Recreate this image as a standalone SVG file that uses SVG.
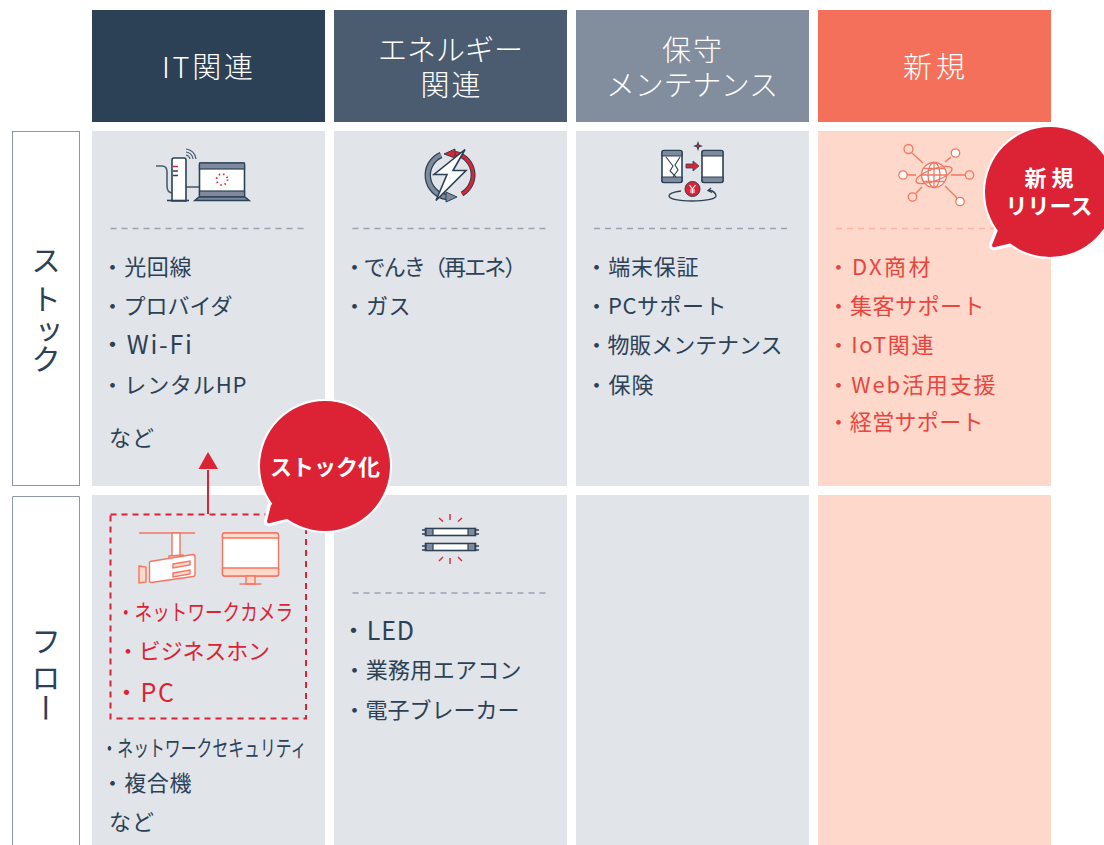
<svg xmlns="http://www.w3.org/2000/svg" width="1104" height="845" viewBox="0 0 1104 845">
<style>
text{font-family:"Noto Sans CJK JP","Noto Sans",sans-serif}
.h{font-size:29px;fill:#fff;text-anchor:middle;font-weight:300}
.l{font-size:22px;fill:#2c4156;font-weight:400}
.r{font-size:22px;fill:#dc2335;font-weight:400}
.o{font-size:22px;fill:#e8453f;font-weight:400}
.s{font-size:30px;fill:#2c4156;font-weight:400;writing-mode:vertical-rl}
.b{font-size:22px;fill:#fff;text-anchor:middle;font-weight:700}
.lat{font-size:25px}
.cell{fill:#e1e4e9}
.new{fill:#fed9cb}
.d{stroke:#9aa3b2;stroke-width:1.5;stroke-dasharray:6 5;fill:none}
.n{stroke:#2c4156;stroke-width:1.6;fill:#fff}
.g{stroke:#2c4156;stroke-width:1.6;fill:#7e8a9b}
.c{stroke:#f47560;stroke-width:1.4;fill:#fff}
.c2{stroke:#f47560;stroke-width:1.4;fill:#fed9cb}
</style>
<rect width="1104" height="845" fill="#fff"/>
<g id="header-it"><rect x="92" y="10" width="233" height="112" fill="#2c4156"/><text class="h" x="207.500" y="78" textLength="91">IT関連</text></g>
<g id="header-energy"><rect x="334" y="10" width="233" height="112" fill="#4c5c70"/><text class="h" x="450.500" y="61" textLength="145">エネルギー</text><text class="h" x="450.500" y="96" textLength="60">関連</text></g>
<g id="header-maint"><rect x="576" y="10" width="233" height="112" fill="#828d9e"/><text class="h" x="692" y="61" textLength="60">保守</text><text class="h" x="692" y="96" textLength="172">メンテナンス</text></g>
<g id="header-new"><rect x="818" y="10" width="233" height="112" fill="#f5705a"/><text class="h" x="934" y="78" textLength="62">新 規</text></g>
<g id="side-stock"><rect x="12.500" y="131.500" width="67" height="354" fill="#fff" stroke="#8d97a6"/><text class="s" x="46" y="245 284 317 344">ストック</text></g>
<g id="side-flow"><path d="M79.500 845V496.500H12.500V845" fill="#fff" stroke="#8d97a6"/><text class="s" x="46" y="626 663 693">フロー</text></g>
<g id="cell-it-stock"><rect class="cell" x="92" y="131" width="233" height="355"/>
<path class="d" d="M110.500 228.500H308"/>
<g id="icon-net" fill="none">
<path d="M156 166h6q5 0 5 6v14q0 7 6 7h7" fill="none" stroke="#4c5c70" stroke-width="1.600"/><path d="M185 187h24" stroke="#4c5c70" stroke-width="1.600"/>
<path class="n" d="M172 201v-41q0-2 2-2h10q2 0 2 2v41z"/><path d="M167 200.500h22" stroke="#2c4156" stroke-width="1.600"/>
<path d="M173 166.500h5" stroke="#dc2335" stroke-width="1.500"/><path d="M173 171h5M173 175.500h5" stroke="#2c4156" stroke-width="1.500"/>
<path d="M186 149a11 11 0 0 1 10 10M186 152a8 8 0 0 1 7 7M186 155a5 5 0 0 1 4 4" stroke="#4c5c70" stroke-width="1.200"/>
<rect class="n" x="199.500" y="163" width="45" height="34" rx="1.500"/><rect x="199.500" y="163" width="45" height="6" fill="#7e8a9b" stroke="#2c4156" stroke-width="1.200"/><rect x="199.500" y="191" width="45" height="6" fill="#7e8a9b" stroke="#2c4156" stroke-width="1.200"/>
<path class="g" d="M199 197h46l4 3.500h-54z"/>
<circle cx="222" cy="179.500" r="5.500" fill="none" stroke="#dc2335" stroke-width="1.800" stroke-dasharray="1.400 3"/>
</g>
<text class="l" x="101.500" y="275" textLength="90">・光回線</text><text class="l" x="101.500" y="314" textLength="131">・プロバイダ</text><text class="l lat" x="100" y="354" textLength="92">・Wi-Fi</text><text class="l" x="101.500" y="393" textLength="145">・レンタルHP</text><text class="l" x="109" y="446" textLength="45">など</text></g>
<g id="cell-energy-stock"><rect class="cell" x="334" y="131" width="233" height="355"/>
<path class="d" d="M352.500 228.500H549"/>
<g id="icon-energy">
<path d="M441 155a22 22 0 0 0 6 42" fill="none" stroke="#2c4156" stroke-width="6.500"/><path d="M441 155a22 22 0 0 0 6 42" fill="none" stroke="#7e8a9b" stroke-width="4"/>
<path d="M453 153a22 22 0 0 1 9 41" fill="none" stroke="#2c4156" stroke-width="5"/><path d="M453 153a22 22 0 0 1 9 41" fill="none" stroke="#dc2335" stroke-width="3"/>
<path d="M444 154l11-5v9z" fill="#dc2335" stroke="#2c4156"/><path d="M446 192l11 5-11 5z" fill="#7e8a9b" stroke="#2c4156"/>
<path class="n" d="M465 149.500l-31 25h13l-11 26 30-30h-13z"/>
</g>
<text class="l" x="343.500" y="275" textLength="183">・でんき（再エネ）</text><text class="l" x="343.500" y="314" textLength="67">・ガス</text></g>
<g id="cell-maint-stock"><rect class="cell" x="576" y="131" width="233" height="355"/>
<path class="d" d="M594 228.500H791"/>
<g id="icon-phone">
<rect class="n" x="662" y="150.500" width="20" height="32" rx="2"/><rect class="n" x="702" y="150.500" width="21" height="32" rx="2"/>
<path d="M662 156v-3.500q0-2 2-2h16q2 0 2 2v3.500zM662 177v3.500q0 2 2 2h16q2 0 2-2V177zM702 156v-3.500q0-2 2-2h17q2 0 2 2v3.500zM702 177v3.500q0 2 2 2h17q2 0 2-2V177z" fill="#7e8a9b" stroke="#2c4156" stroke-width="1.200"/>
<path d="M666 157l7 9-3 5 6 6M680 157l-5 8 3 5-5 7" fill="none" stroke="#2c4156" stroke-width="1.100"/>
<path d="M686 164h7v-3l6 5-6 5v-3h-7z" fill="#dc2335" stroke="#2c4156" stroke-width=".8"/>
<path d="M698 141l1.300 3.700 3.700 1.300-3.700 1.300-1.300 3.700-1.300-3.700-3.700-1.300 3.700-1.300z" fill="#2c4156"/><circle cx="698" cy="146" r="1.300" fill="#dc2335"/>
<circle cx="692.500" cy="189" r="7.500" fill="#dc2335" stroke="#2c4156"/>
<path d="M689.500 185l3 4 3-4M692.500 189v4.500M690 190h5M690 192h5" fill="none" stroke="#fff" stroke-width="1.100"/>
<path d="M681 191c-8 1-12 3-12 5 0 3 10 5 23 5s24-2 24-5c0-3-3-5-7-6" fill="none" stroke="#2c4156" stroke-width="1.300"/><path d="M711 188l-3 2.500 4 2" fill="none" stroke="#2c4156" stroke-width="1.300"/>
</g>
<text class="l" x="585.500" y="275" textLength="113">・端末保証</text><text class="l" x="585.500" y="314" textLength="141">・PCサポート</text><text class="l" x="585.500" y="353" textLength="197">・物販メンテナンス</text><text class="l" x="585.500" y="393" textLength="68">・保険</text></g>
<g id="cell-new-stock"><rect class="new" x="818" y="131" width="233" height="355"/>
<path d="M836 228.500H1000" fill="none" stroke="#fab5a1" stroke-width="1.500" stroke-dasharray="6 5"/>
<g id="icon-globe" fill="none" stroke="#f47560" stroke-width="1.300">
<circle cx="934" cy="175" r="12.500" fill="#fff"/><ellipse cx="934" cy="175" rx="6" ry="12.500"/><path d="M934 162.500v25M921.500 175h25M923 168.500h22M923 181.500h22"/>
<ellipse cx="934" cy="175" rx="19" ry="6" transform="rotate(-20 934 175)"/>
<circle cx="908.500" cy="149" r="4.500"/><circle cx="955.500" cy="153" r="4.200" fill="#fff"/><circle cx="903" cy="175" r="4.200" fill="#fff"/><circle cx="969.500" cy="175" r="4.200"/><circle cx="912.500" cy="197" r="4.200"/><circle cx="960" cy="201.500" r="4.200" fill="#fff"/>
<path d="M912 153l11 10M951 157l-6 5M907 175h9M951 175h14M922 187l-6 6M945 186l12 12"/>
</g>
<text class="o" x="827.500" y="275" textLength="103">・DX商材</text><text class="o" x="827.500" y="314" textLength="157">・集客サポート</text><text class="o" x="827.500" y="353" textLength="106">・IoT関連</text><text class="o" x="827.500" y="393" textLength="168">・Web活用支援</text><text class="o" x="827.500" y="430" textLength="156">・経営サポート</text></g>
<g id="cell-it-flow"><rect class="cell" x="92" y="495" width="233" height="350"/>
<g id="icon-camera" fill="none">
<path d="M139 533h56" stroke="#f47560" stroke-width="1.400"/>
<path class="c" d="M172 533h8v25h-8z"/><path class="c2" d="M169 556l14-1v5l-14 1z"/>
<path class="c" d="M150 561.500l43-7q2 0 2 2v18q0 2-2 2l-42 6q-1.500 0-1.500-2v-17q0-2 .5-2z"/>
<path class="c2" d="M173 564l17-3v4l-17 3zM173 573l17-3v4l-17 3zM139 566l7 1v15l-7 1z"/>
<rect class="c" x="222.500" y="533" width="56" height="43" rx="2"/><path class="c2" d="M222.500 538v-3q0-2 2-2h52q2 0 2 2v3zM222.500 568v6q0 2 2 2h52q2 0 2-2v-6z"/>
<path class="c2" d="M246 576h9v8h-9z"/><path d="M239.500 584h22" stroke="#f47560" stroke-width="1.400"/>
</g>
<text class="r" x="117" y="620" textLength="176" lengthAdjust="spacingAndGlyphs">・ネットワークカメラ</text><text class="r" x="117" y="659" textLength="153">・ビジネスホン</text><text class="r lat" x="114" y="702" textLength="60">・PC</text>
<text class="l" x="101.500" y="756" textLength="205" lengthAdjust="spacingAndGlyphs">・ネットワークセキュリティ</text><text class="l" x="101.500" y="791" textLength="90">・複合機</text><text class="l" x="109" y="830" textLength="45">など</text></g>
<g id="cell-energy-flow"><rect class="cell" x="334" y="495" width="233" height="350"/>
<path class="d" d="M352.500 593H549"/>
<g id="icon-led">
<path d="M422 530h4M422 534h4M422 546h4M422 550h4M475 530h4M475 534h4M475 546h4M475 550h4" stroke="#2c4156" stroke-width="1.300"/>
<rect class="n" x="425.500" y="528.500" width="50" height="7"/><rect class="n" x="425.500" y="543.500" width="50" height="7"/>
<path d="M426 528.500h7v7h-7zM468 528.500h7v7h-7zM426 543.500h7v7h-7zM468 543.500h7v7h-7z" fill="#7e8a9b" stroke="#2c4156" stroke-width="1.200"/>
<path d="M450 514v6M439 518l4 3.500M462 518l-4 3.500M450 558v6M439 561l4-4M462 561l-4-4" stroke="#dc2335" stroke-width="1.400"/>
</g>
<text class="l lat" x="341" y="640" textLength="73">・LED</text><text class="l" x="343.500" y="678" textLength="178">・業務用エアコン</text><text class="l" x="343.500" y="718" textLength="176">・電子ブレーカー</text></g>
<g id="cell-maint-flow"><rect class="cell" x="576" y="495" width="233" height="350"/></g>
<g id="cell-new-flow"><rect class="new" x="818" y="495" width="233" height="350"/></g>
<g id="connectors">
<rect x="110.500" y="514.500" width="195.500" height="204" fill="none" stroke="#dc2335" stroke-width="2" stroke-dasharray="6 5"/>
<path d="M208 514V470" stroke="#dc2335" stroke-width="2" fill="none"/>
<path d="M198.500 469l9.500-17 10 17z" fill="#dc2335"/>
</g>
<g id="badge-stock"><path d="M270 503l-4 18q0 4 4 3l22-6z" fill="#dc2335" stroke="#fff" stroke-width="4" stroke-linejoin="round"/><circle cx="325" cy="466" r="67" fill="#fff"/><circle cx="325" cy="466" r="65" fill="#dc2335"/><path d="M271 505l-4 16q0 3 3 2l21-5 10-12-15-15z" fill="#dc2335"/><text class="b" x="325" y="475">ストック化</text></g>
<g id="badge-new"><path d="M997 228l-6 17q0 4 4 3l18-4z" fill="#dc2335" stroke="#fff" stroke-width="4" stroke-linejoin="round"/><circle cx="1050" cy="192" r="67" fill="#fff"/><circle cx="1050" cy="192" r="65" fill="#dc2335"/><path d="M998 230l-6 15q0 3 3 2l17-4 8-10-12-14z" fill="#dc2335"/><text class="b" x="1049" y="186">新 規</text><text class="b" x="1049" y="214">リリース</text></g>
</svg>
